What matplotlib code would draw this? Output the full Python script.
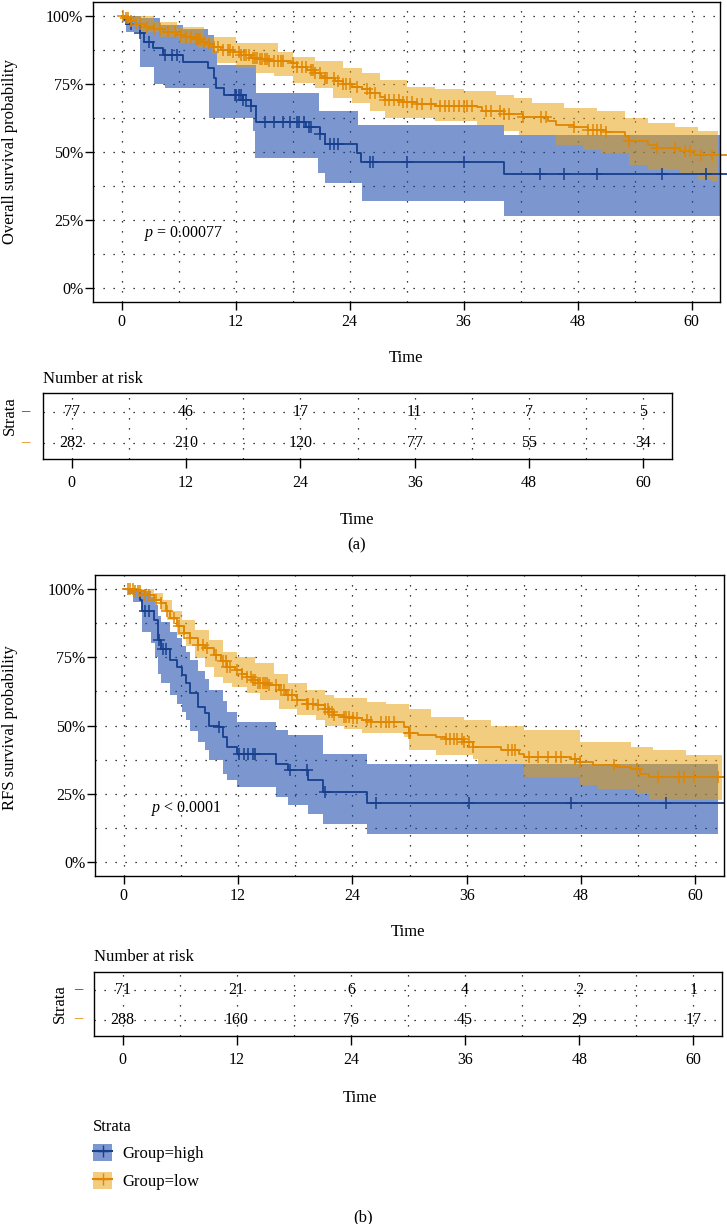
import numpy as np
import matplotlib.pyplot as plt
from matplotlib.patches import Patch
from matplotlib.lines import Line2D

plt.rcParams['font.family'] = ['Liberation Serif', 'DejaVu Serif']
plt.rcParams['mathtext.fontset'] = 'custom'
plt.rcParams['mathtext.it'] = 'Liberation Serif:italic'
plt.rcParams['mathtext.rm'] = 'Liberation Serif'

W, H = 727, 1224

# ---------------- OS (a) ----------------
os_hi_t = [0, 0.3, 0.5, 1.9, 2.4, 3.3, 4.4, 6.5, 9.1, 9.7, 9.9, 10.8, 12.8, 13.6, 14.2, 19.4, 20.9, 21.4, 24.8, 25.2, 40.3]
os_hi_s = [1.0, 0.984, 0.97, 0.935, 0.905, 0.88, 0.856, 0.831, 0.807, 0.77, 0.735, 0.71, 0.69, 0.67, 0.61, 0.59, 0.565, 0.53, 0.495, 0.463, 0.418]
os_hi_up_t = [0, 2.0, 4.0, 6.5, 9.1, 9.7, 10.0, 14.2, 20.8, 24.9, 40.3]
os_hi_up = [1.0, 0.99, 0.965, 0.95, 0.93, 0.87, 0.82, 0.716, 0.65, 0.60, 0.563]
os_hi_lo_t = [0, 0.5, 1.9, 3.4, 4.6, 9.2, 13.8, 14.1, 20.7, 21.4, 25.3, 40.3]
os_hi_lo = [1.0, 0.94, 0.81, 0.75, 0.734, 0.624, 0.576, 0.478, 0.423, 0.387, 0.32, 0.265]
os_hi_cens = [1.0, 1.9, 2.9, 4.6, 5.3, 5.8, 11.9, 12.1, 12.4, 12.6, 12.8, 13.1, 13.6, 15.1, 16.0, 17.0, 17.7,
              18.5, 18.7, 19.2, 19.7, 19.9, 20.9, 21.9, 22.4, 22.8, 26.2, 26.5, 30.1, 36.0, 44.0, 46.6, 50.0,
              56.9, 61.5]

os_lo_t = [0, 0.3, 0.8, 1.5, 2.5, 3.4, 4.5, 5.8, 6.8, 7.8, 8.5, 9.2, 9.7, 10.5, 11.7, 12.6, 13.6, 14.5, 15.5,
           17.8, 18.5, 19.5, 20.4, 21.0, 21.4, 22.5, 23.3, 24.3, 25.3, 26.2, 27.2, 27.7, 29.5, 31.1, 33.0, 37.4,
           37.9, 40.3, 42.3, 44.9, 45.7, 47.6, 49.1, 51.0, 53.0, 53.4, 55.4, 56.4, 58.8, 60.3]
os_lo_s = [1.0, 0.99, 0.98, 0.97, 0.96, 0.95, 0.94, 0.93, 0.92, 0.915, 0.905, 0.895, 0.885, 0.875, 0.865, 0.855,
           0.845, 0.84, 0.835, 0.825, 0.81, 0.80, 0.79, 0.78, 0.77, 0.76, 0.75, 0.74, 0.73, 0.715, 0.70, 0.69,
           0.685, 0.675, 0.67, 0.665, 0.65, 0.64, 0.63, 0.615, 0.60, 0.59, 0.58, 0.575, 0.56, 0.54, 0.525, 0.515,
           0.505, 0.49]
os_lo_up_t = [0, 0.2, 3.4, 5.8, 8.7, 12.1, 16.5, 18.0, 20.4, 23.3, 25.3, 27.2, 30.1, 33.0, 36.0, 39.4, 41.3,
              43.2, 46.6, 50.0, 53.0, 55.4, 58.3, 60.7]
os_lo_up = [1.0, 1.0, 0.978, 0.96, 0.923, 0.899, 0.868, 0.85, 0.832, 0.807, 0.789, 0.765, 0.74, 0.732, 0.722,
            0.71, 0.698, 0.679, 0.663, 0.649, 0.624, 0.606, 0.59, 0.576]
os_lo_lo_t = [0, 0.3, 2.0, 4.0, 6.0, 8.0, 9.5, 10.0, 12.0, 14.0, 16.0, 18.0, 20.4, 22.3, 24.3, 26.2, 27.7, 33.0,
              37.4, 40.3, 41.8, 45.7, 48.6, 50.5, 53.4, 55.4, 58.8, 60.7, 62.0]
os_lo_lo = [1.0, 0.975, 0.94, 0.92, 0.90, 0.88, 0.86, 0.826, 0.807, 0.789, 0.777, 0.752, 0.734, 0.698, 0.679,
            0.649, 0.624, 0.612, 0.60, 0.576, 0.563, 0.527, 0.509, 0.496, 0.454, 0.435, 0.423, 0.399, 0.393]
os_lo_cens = [0.2, 0.5, 0.7, 1.0, 1.5, 1.9, 2.7, 3.4, 4.1, 4.9, 5.6, 6.3, 6.8, 7.3, 7.8, 8.0, 8.3, 8.7, 9.2, 9.7,
              10.2, 10.7, 11.2, 11.4, 11.7, 12.4, 12.6, 12.9, 13.1, 13.4, 13.8, 14.1, 14.3, 14.6, 14.8, 15.1,
              15.3, 15.5, 16.0, 16.5, 16.8, 17.0, 18.0, 18.5, 18.95, 19.4, 19.9, 20.2, 20.4, 20.9, 21.4, 21.6,
              22.4, 22.8, 23.3, 23.6, 24.1, 24.8, 25.8, 26.2, 26.7, 27.7, 28.2, 28.7, 29.2, 29.6, 30.1, 30.6,
              31.1, 31.6, 32.6, 33.5, 34.0, 34.5, 35.0, 35.5, 36.0, 36.4, 36.9, 38.4, 38.9, 39.8, 40.3, 40.8,
              42.3, 44.2, 44.7, 47.6, 49.1, 49.6, 50.0, 50.5, 51.0, 53.4, 56.4, 58.3, 59.3, 59.8, 61.0, 62.2]

# ---------------- RFS (b) ----------------
rfs_hi_t = [0, 1.0, 1.7, 1.9, 3.2, 3.6, 3.9, 4.9, 5.6, 6.1, 6.6, 7.0, 7.8, 8.5, 9.0, 10.0, 10.4, 10.9, 11.9,
            16.0, 17.3, 19.4, 20.9, 25.5]
rfs_hi_s = [1.0, 0.99, 0.96, 0.92, 0.886, 0.813, 0.78, 0.74, 0.715, 0.685, 0.654, 0.617, 0.568, 0.544, 0.50,
            0.495, 0.458, 0.42, 0.397, 0.36, 0.336, 0.30, 0.256, 0.216]
rfs_hi_up_t = [0, 1.9, 2.9, 3.3, 3.6, 3.9, 4.9, 5.6, 6.1, 6.6, 7.0, 7.8, 8.5, 9.0, 10.4, 10.9, 11.9, 16.0,
               17.3, 20.9, 25.5]
rfs_hi_up = [1.0, 0.99, 0.97, 0.94, 0.90, 0.88, 0.84, 0.82, 0.79, 0.77, 0.74, 0.70, 0.67, 0.63, 0.59, 0.55,
             0.513, 0.483, 0.465, 0.397, 0.36]
rfs_hi_lo_t = [0, 0.5, 1.0, 1.9, 2.9, 3.3, 3.6, 3.9, 4.9, 5.6, 6.1, 6.6, 7.0, 7.8, 8.5, 9.0, 10.4, 10.9, 11.9,
               16.0, 17.3, 19.4, 20.9, 25.5]
rfs_hi_lo = [1.0, 0.98, 0.95, 0.84, 0.80, 0.75, 0.69, 0.654, 0.61, 0.58, 0.55, 0.52, 0.48, 0.44, 0.41, 0.373,
             0.324, 0.30, 0.275, 0.238, 0.208, 0.177, 0.14, 0.103]
rfs_hi_cens = [2.2, 2.7, 3.7, 4.1, 4.4, 10.0, 12.1, 12.6, 13.1, 13.6, 13.8, 17.5, 19.2, 21.1, 26.5, 36.2,
               46.9, 56.9]

rfs_lo_t = [0, 1.2, 2.2, 3.2, 3.9, 4.4, 4.9, 5.6, 6.3, 7.0, 7.8, 8.5, 9.5, 10.2, 10.9, 11.7, 12.4, 12.9, 13.6,
            14.1, 15.3, 16.3, 17.0, 18.2, 19.2, 20.2, 21.1, 21.6, 22.1, 23.1, 23.8, 25.0, 26.0, 29.4, 29.9,
            30.9, 32.8, 33.8, 35.7, 36.7, 39.6, 41.5, 42.0, 46.9, 47.9, 49.3, 51.7, 53.2, 54.2, 55.1]
rfs_lo_s = [1.0, 0.99, 0.978, 0.96, 0.948, 0.917, 0.892, 0.862, 0.838, 0.82, 0.795, 0.783, 0.758, 0.734, 0.715,
            0.703, 0.69, 0.678, 0.666, 0.654, 0.648, 0.63, 0.611, 0.593, 0.58, 0.574, 0.562, 0.55, 0.538, 0.532,
            0.526, 0.52, 0.513, 0.495, 0.471, 0.465, 0.458, 0.452, 0.44, 0.422, 0.41, 0.397, 0.385, 0.379,
            0.367, 0.355, 0.348, 0.342, 0.324, 0.312]
rfs_lo_up_t = [0, 1.7, 3.2, 4.1, 5.1, 6.1, 7.5, 9.0, 10.4, 11.9, 13.8, 15.8, 17.2, 19.2, 21.1, 22.1, 25.5,
               27.5, 29.9, 32.3, 35.7, 38.6, 42.0, 47.9, 53.2, 55.6, 59.0]
rfs_lo_up = [1.0, 1.0, 0.985, 0.96, 0.917, 0.886, 0.85, 0.813, 0.77, 0.752, 0.727, 0.69, 0.654, 0.63, 0.611,
             0.60, 0.587, 0.58, 0.562, 0.532, 0.52, 0.50, 0.483, 0.44, 0.422, 0.41, 0.391]
rfs_lo_lo_t = [0, 1.7, 2.7, 3.9, 4.6, 5.6, 6.6, 7.5, 8.5, 9.5, 10.4, 11.4, 12.9, 14.3, 16.3, 18.2, 20.2, 21.1,
               23.1, 25.0, 29.4, 29.9, 32.8, 36.7, 37.2, 42.0, 47.9, 49.8, 53.7, 55.1]
rfs_lo_lo = [1.0, 0.985, 0.96, 0.917, 0.886, 0.83, 0.789, 0.746, 0.715, 0.678, 0.654, 0.642, 0.617, 0.593,
             0.562, 0.538, 0.52, 0.50, 0.489, 0.471, 0.458, 0.41, 0.391, 0.379, 0.36, 0.312, 0.281, 0.269, 0.25,
             0.226]
rfs_lo_cens = [0.5, 0.7, 1.0, 1.2, 1.5, 1.7, 2.2, 2.7, 3.4, 3.9, 4.6, 5.3, 5.8, 6.3, 7.0, 7.8, 8.3, 8.7, 9.7,
               10.4, 10.7, 10.9, 11.2, 11.9, 12.4, 12.9, 13.4, 13.6, 13.8, 14.1, 14.3, 14.6, 14.8, 15.1, 15.3,
               16.0, 16.5, 16.8, 17.2, 17.7, 18.2, 19.2, 19.4, 19.9, 20.4, 21.1, 21.4, 21.6, 21.9, 22.1, 23.1,
               23.3, 23.6, 24.1, 24.5, 25.5, 26.0, 27.0, 27.5, 27.9, 28.4, 29.9, 30.1, 33.8, 34.3, 34.7, 35.0,
               35.5, 35.7, 36.2, 36.7, 40.3, 40.8, 41.1, 42.5, 43.5, 44.5, 45.4, 45.9, 47.4, 47.9, 51.5, 53.9,
               56.1, 58.3, 58.8, 59.8, 62.4]

risk_times = [0, 12, 24, 36, 48, 60]
os_risk_hi = [77, 46, 17, 11, 7, 5]
os_risk_lo = [282, 210, 120, 77, 55, 34]
rfs_risk_hi = [71, 21, 6, 4, 2, 1]
rfs_risk_lo = [288, 160, 76, 45, 29, 17]

# colours
blue_line, orange_line = '#163F8E', '#E08600'
blue_fill, orange_fill = '#1140AA', '#E79B01'
blue_a, orange_a = 0.55, 0.5
dots = (0, (1, 7))

fig = plt.figure(figsize=(W / 100, H / 100), dpi=100)


def fax(l, t, r, b):
    return fig.add_axes([l / W, 1 - b / H, (r - l) / W, (b - t) / H])


def ftxt(x, y, s, **kw):
    kw.setdefault('ha', 'center')
    kw.setdefault('va', 'center')
    kw.setdefault('fontsize', 12)
    fig.text(x / W, 1 - y / H, s, **kw)


def step_at(t, s, x):
    idx = np.searchsorted(t, x, side='right') - 1
    return np.asarray(s)[idx]


def band(ax, up_t, up, lo_t, lo, end, col, a):
    grid = np.unique(np.concatenate([up_t, lo_t, [end]]))
    ax.fill_between(grid, step_at(lo_t, lo, grid), step_at(up_t, up, grid), step='post',
                    color=col, alpha=a, lw=0)


def curve(ax, t, s, cens, end, col, clip=True):
    ax.step(np.append(t, end), np.append(s, s[-1]), where='post', color=col, lw=1.3, clip_on=clip)
    ax.plot(cens, step_at(t, s, cens), ls='none', marker='+', ms=8, mew=1.1, color=col)


def style_plot(ax):
    ax.set_xlim(-3, 63)
    ax.set_ylim(-0.05, 1.05)
    ax.set_xticks(range(0, 61, 12))
    ax.set_xticks(range(6, 61, 12), minor=True)
    ax.set_yticks([0, 0.25, 0.5, 0.75, 1.0])
    ax.set_yticklabels(['0%', '25%', '50%', '75%', '100%'])
    ax.set_yticks([0.125, 0.375, 0.625, 0.875], minor=True)
    ax.tick_params(which='major', length=5.5, width=1, labelsize=11.5, pad=3)
    ax.tick_params(axis='y', which='major', pad=1.5)
    ax.tick_params(which='minor', length=0)
    ax.grid(which='both', color='black', linestyle=dots, linewidth=0.9)
    ax.set_axisbelow(True)
    for sp in ax.spines.values():
        sp.set_linewidth(1.0)


def risk_table(ax, hi, lo):
    ax.set_xlim(-3, 63)
    ax.set_ylim(0.48, 2.61)
    ax.set_xticks(risk_times)
    ax.set_xticks(range(6, 61, 12), minor=True)
    ax.set_yticks([1, 2])
    ax.set_yticklabels([])
    ax.tick_params(axis='x', which='major', length=6.5, width=1, labelsize=11.5, pad=5)
    ax.tick_params(axis='y', length=0)
    ax.tick_params(which='minor', length=0)
    ax.grid(which='both', color='black', linestyle=dots, linewidth=0.9)
    for sp in ax.spines.values():
        sp.set_linewidth(1.0)
    for i, tt in enumerate(risk_times):
        ax.text(tt, 2, str(hi[i]), ha='center', va='center', fontsize=11.5)
        ax.text(tt, 1, str(lo[i]), ha='center', va='center', fontsize=11.5)


# ----- panel (a) -----
ax1 = fax(93, 2, 720, 302)
style_plot(ax1)
band(ax1, os_hi_up_t, os_hi_up, os_hi_lo_t, os_hi_lo, 63.0, blue_fill, blue_a)
band(ax1, os_lo_up_t, os_lo_up, os_lo_lo_t, os_lo_lo, 62.8, orange_fill, orange_a)
curve(ax1, os_hi_t, os_hi_s, os_hi_cens, 63.7, blue_line, clip=False)
curve(ax1, os_lo_t, os_lo_s, os_lo_cens, 63.7, orange_line, clip=False)
ax1.text(2.4, 0.2, r'$\mathit{p}$ = 0.00077', ha='left', va='center', fontsize=11.5)
ftxt(10, 152, 'Overall survival probability', rotation=90)
ftxt(406, 358, 'Time')

tab1 = fax(43, 393, 672, 459)
risk_table(tab1, os_risk_hi, os_risk_lo)
ftxt(43, 379, 'Number at risk', ha='left')
ftxt(10, 416, 'Strata', rotation=90)
ftxt(25, 411, '–', color=blue_line)
ftxt(25, 442, '–', color=orange_line)
ftxt(357, 520, 'Time')
ftxt(357, 545, '(a)')

# ----- panel (b) -----
ax2 = fax(95, 575, 724, 876)
style_plot(ax2)
band(ax2, rfs_hi_up_t, rfs_hi_up, rfs_hi_lo_t, rfs_hi_lo, 62.4, blue_fill, blue_a)
band(ax2, rfs_lo_up_t, rfs_lo_up, rfs_lo_lo_t, rfs_lo_lo, 62.8, orange_fill, orange_a)
curve(ax2, rfs_hi_t, rfs_hi_s, rfs_hi_cens, 63.0, blue_line)
curve(ax2, rfs_lo_t, rfs_lo_s, rfs_lo_cens, 63.0, orange_line)
ax2.text(2.9, 0.195, r'$\mathit{p}$ < 0.0001', ha='left', va='center', fontsize=11.5)
ftxt(10, 728, 'RFS survival probability', rotation=90)
ftxt(408, 932, 'Time')

tab2 = fax(94, 972, 722, 1036)
risk_table(tab2, rfs_risk_hi, rfs_risk_lo)
ftxt(94, 957, 'Number at risk', ha='left')
ftxt(60, 1004, 'Strata', rotation=90)
ftxt(78, 989, '–', color=blue_line)
ftxt(78, 1018, '–', color=orange_line)
ftxt(360, 1098, 'Time')

handles = [(Patch(facecolor=blue_fill, alpha=blue_a, lw=0), Line2D([], [], color=blue_line, marker='+', ms=8)),
           (Patch(facecolor=orange_fill, alpha=orange_a, lw=0), Line2D([], [], color=orange_line, marker='+', ms=8))]
fig.legend(handles, ['Group=high', 'Group=low'], loc='upper left', bbox_to_anchor=(93 / W, 1 - 1119 / H),
           title='Strata', frameon=False, alignment='left', fontsize=12, title_fontsize=12,
           handlelength=1.15, handleheight=1.2, labelspacing=0.55, handletextpad=0.6,
           borderaxespad=0, borderpad=0)
ftxt(363, 1217, '(b)')

fig.savefig('out.png', dpi=100)
